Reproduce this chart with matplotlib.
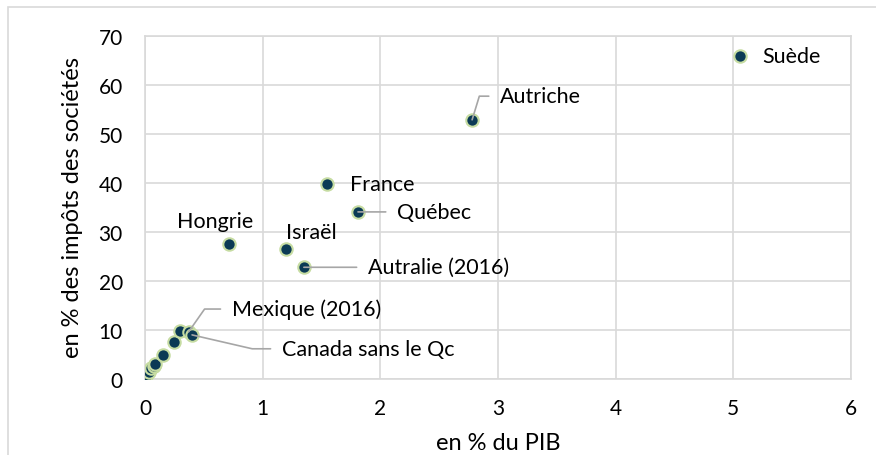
import matplotlib.pyplot as plt
from matplotlib.patches import Rectangle

plt.rcParams['font.family'] = ['Lato', 'DejaVu Sans']

# points without labels (cluster near the origin)
small_x = [0.0, 0.01, 0.03, 0.05, 0.08, 0.085, 0.15, 0.25, 0.30]
small_y = [0.0, 0.7, 1.4, 2.2, 2.7, 3.1, 4.9, 7.5, 9.7]

# labelled points
names = ['Suède', 'Autriche', 'France', 'Québec', 'Hongrie', 'Israël',
         'Autralie (2016)', 'Mexique (2016)', 'Canada sans le Qc']
pib = [5.06, 2.78, 1.55, 1.81, 0.71, 1.20, 1.35, 0.37, 0.40]
impots = [66.0, 52.9, 39.8, 34.1, 27.5, 26.5, 22.8, 9.6, 9.0]

navy = '#0b3a55'
edge = '#c6dca2'
grid = '#d9d9d9'
leader = '#a6a6a6'

fig = plt.figure(figsize=(8.76, 4.56), dpi=100)
fig.patches.append(Rectangle((8 / 876, -0.1), 1.2, (456 - 8) / 456 + 0.1,
                             transform=fig.transFigure, fill=False,
                             edgecolor=grid, linewidth=1.2))
ax = fig.add_axes([145 / 876, 76 / 456, 706 / 876, 343 / 456])

ax.scatter(small_x, small_y, s=80, color=navy, edgecolors=edge, linewidths=1.5, zorder=3)
ax.scatter(pib, impots, s=80, color=navy, edgecolors=edge, linewidths=1.5, zorder=3)

ax.set_xlim(0, 6)
ax.set_ylim(0, 70)
ax.set_xticks(range(0, 7))
ax.set_yticks(range(0, 71, 10))
ax.grid(True, color=grid, linewidth=1.2)
ax.set_axisbelow(True)
for s in ax.spines.values():
    s.set_color(grid)
    s.set_linewidth(1.2)
ax.tick_params(axis='y', length=0, labelsize=15, colors='black', pad=16)
ax.tick_params(axis='x', length=0, labelsize=15, colors='black', pad=14)

# axis titles
fig.text(498 / 876, 1 - 444 / 456, 'en % du PIB', fontsize=17, ha='center', va='center')
fig.text(73 / 876, 1 - 208 / 456, 'en % des impôts des sociétés', fontsize=17,
         ha='center', va='center', rotation=90)

fs = 15.5
# label offsets in points (text position relative to the point)
labels = {
    'Suède': dict(xytext=(16, 0), ha='left', cs=None),
    'Autriche': dict(xytext=(20, 17), ha='left', cs='angle,angleA=0,angleB=73,rad=0'),
    'France': dict(xytext=(16.5, 0), ha='left', cs=None),
    'Québec': dict(xytext=(28, 0), ha='left', cs='arc3'),
    'Hongrie': dict(xytext=(-10, 17), ha='center', cs=None),
    'Israël': dict(xytext=(0, 12), ha='left', cs=None),
    'Autralie (2016)': dict(xytext=(46, 0), ha='left', cs='arc3'),
    'Mexique (2016)': dict(xytext=(31, 16.5), ha='left', cs='angle,angleA=0,angleB=55,rad=0'),
    'Canada sans le Qc': dict(xytext=(64.5, -10), ha='left', cs='angle,angleA=0,angleB=-13,rad=0'),
}
for name, x, y in zip(names, pib, impots):
    o = labels[name]
    if o['cs']:
        ax.annotate(name, (x, y), xytext=o['xytext'], textcoords='offset points',
                    ha=o['ha'], va='center', fontsize=fs,
                    arrowprops=dict(arrowstyle='-', color=leader, lw=1.2,
                                    shrinkA=6, shrinkB=0, connectionstyle=o['cs']))
    else:
        ax.annotate(name, (x, y), xytext=o['xytext'], textcoords='offset points',
                    ha=o['ha'], va='center', fontsize=fs)

fig.savefig('out.png', dpi=100)
